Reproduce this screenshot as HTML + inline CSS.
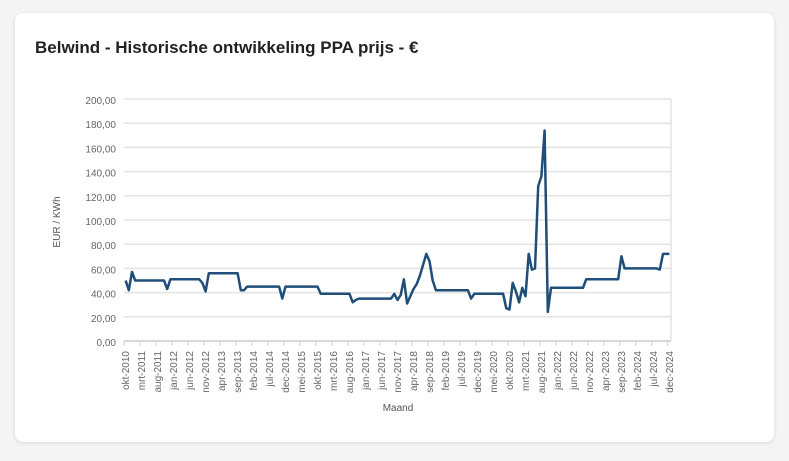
<!DOCTYPE html>
<html><head><meta charset="utf-8"><style>
body{margin:0;width:789px;height:461px;background:#f4f4f4;font-family:"Liberation Sans",sans-serif;overflow:hidden}
.card{position:absolute;left:15px;top:13px;width:759px;height:429px;background:#fff;border-radius:8px;box-shadow:0 1px 4px rgba(0,0,0,0.12)}
h1{position:absolute;left:20px;top:25px;margin:0;font-size:17px;font-weight:bold;color:#222}
svg{position:absolute;left:0;top:0}
</style></head><body>
<div class="card">
<h1>Belwind - Historische ontwikkeling PPA prijs - €</h1>
</div>
<svg id="chart" width="789" height="461"></svg>
<script>
const tickLabels=["okt-2010","mrt-2011","aug-2011","jan-2012","jun-2012","nov-2012","apr-2013","sep-2013","feb-2014","jul-2014","dec-2014","mei-2015","okt-2015","mrt-2016","aug-2016","jan-2017","jun-2017","nov-2017","apr-2018","sep-2018","feb-2019","jul-2019","dec-2019","mei-2020","okt-2020","mrt-2021","aug-2021","jan-2022","jun-2022","nov-2022","apr-2023","sep-2023","feb-2024","jul-2024","dec-2024"];
const yTicks=[0,20,40,60,80,100,120,140,160,180,200];
const prices=[50,42,57,
50,50,50,50,50,50,50,50,50,50,
43,
51,51,51,51,51,51,51,51,51,51,
48,41,
56,56,56,56,56,56,56,56,56,56,
42,42,
45,45,45,45,45,45,45,45,45,45,45,
35,
45,45,45,45,45,45,45,45,45,45,45,
39,39,39,39,39,39,39,39,39,39,
32,34,
35,35,35,35,35,35,35,35,35,35,35,
39,34,38,51,31,37,43,47,54,63,72,66,50,
42,42,42,42,42,42,42,42,42,42,42,
35,
39,39,39,39,39,39,39,39,39,39,
27,26,48,41,32,44,37,72,59,60,128,136,174,24,
44,44,44,44,44,44,44,44,44,44,44,
51,51,51,51,51,51,51,51,51,51,51,
70,
60,60,60,60,60,60,60,60,60,60,60,
59,72,72,72];
const NS="http://www.w3.org/2000/svg";
const svg=document.getElementById('chart');
const X0=124,X1=671,Y0=341,Y1=99;
const n=prices.length, step=(X1-X0)/n;
const xs=i=>X0+step*(i+0.5);
const ys=v=>Y0-(v/200)*(Y0-Y1);
function mk(t,a){const e=document.createElementNS(NS,t);for(const k in a)e.setAttribute(k,a[k]);svg.appendChild(e);return e;}
yTicks.forEach(v=>{
 const g=mk('line',{x1:X0,x2:X1,y1:ys(v),y2:ys(v),stroke:'#e3e3e3','stroke-width':1.5});
 
 
 const t=mk('text',{x:116,y:ys(v)+5,'text-anchor':'end','font-size':10,fill:'#666'});
 t.textContent=v.toFixed(2).replace('.',',');
 
 
});
const rb=mk('line',{x1:X1,x2:X1,y1:Y1,y2:Y0,stroke:'#e3e3e3','stroke-width':1.5});


const ax=mk('line',{x1:X0,x2:X1,y1:Y0,y2:Y0,stroke:'#d0d0d0','stroke-width':1.5});


tickLabels.forEach((l,k)=>{
 const i=k*5;
 const tk=mk('line',{x1:X0+step*i,x2:X0+step*i,y1:Y0,y2:Y0+5,stroke:'#d0d0d0','stroke-width':1});
 
 
 const x=xs(i)+3.5,y=Y0+10;
 const t=mk('text',{x:x,y:y,'text-anchor':'end','font-size':10,fill:'#666',transform:`rotate(-90 ${x} ${y})`});
 t.textContent=l;
 
 
});
const p=mk('polyline',{points:prices.map((v,i)=>xs(i).toFixed(1)+','+ys(v).toFixed(1)).join(' '),fill:'none',stroke:'#1f4e79','stroke-width':2.5,'stroke-linejoin':'round'});


const yt=mk('text',{x:60,y:222,'text-anchor':'middle','font-size':10,fill:'#555',transform:'rotate(-90 60 222)'});
yt.textContent='EUR / KWh';


const xt=mk('text',{x:398,y:411,'text-anchor':'middle','font-size':10,fill:'#555'});
xt.textContent='Maand';


</script>
</body></html>
